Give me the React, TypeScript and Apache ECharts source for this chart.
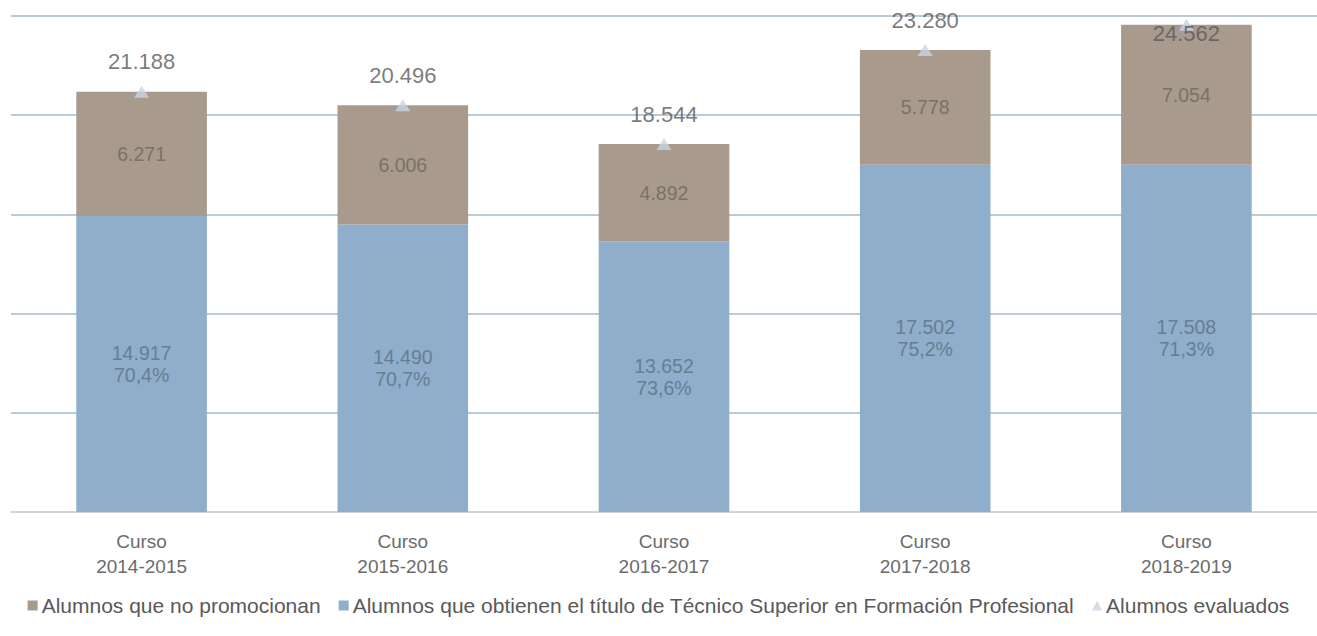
import React, { useEffect, useRef } from "react";
import * as echarts from "echarts";

const categories = ["Curso\n2014-2015", "Curso\n2015-2016", "Curso\n2016-2017", "Curso\n2017-2018", "Curso\n2018-2019"];
const titulados = [14917, 14490, 13652, 17502, 17508];
const noPromocionan = [6271, 6006, 4892, 5778, 7054];
const evaluados = [21188, 20496, 18544, 23280, 24562];
const porcentajes = ["70,4%", "70,7%", "73,6%", "75,2%", "71,3%"];
const yTicks = [0, 5000, 10000, 15000, 20000, 25000];

const SERIES_NO = "Alumnos que no promocionan";
const SERIES_TIT = "Alumnos que obtienen el título de Técnico Superior en Formación Profesional";
const SERIES_EVAL = "Alumnos evaluados";

const fmt = (v: number) => String(v).replace(/\B(?=(\d{3})+(?!\d))/g, ".");

const SANS = "'Liberation Sans', Arial, sans-serif";

export default function App() {
  const ref = useRef<HTMLDivElement>(null);
  useEffect(() => {
    if (!ref.current) return;
    const chart = echarts.init(ref.current, undefined, { renderer: "svg" });
    const last = evaluados.length - 1;
    chart.setOption({
      animation: false,
      backgroundColor: "#ffffff",
      grid: { left: 11, right: -7, top: 16, bottom: 124, containLabel: false },
      legend: {
        top: 595,
        left: "center",
        width: 1317,
        padding: 0,
        itemWidth: 10,
        itemHeight: 10,
        itemGap: 18,
        data: [
          { name: SERIES_NO, icon: "rect" },
          { name: SERIES_TIT, icon: "rect" },
          { name: SERIES_EVAL, icon: "triangle" },
        ],
        textStyle: { fontFamily: SANS, fontSize: 21, color: "#595959", padding: [0, 0, 0, -1] },
      },
      xAxis: {
        type: "category",
        data: categories,
        axisLine: { show: true, lineStyle: { color: "#d9d9d9", width: 1.5 } },
        axisTick: { show: false },
        axisLabel: {
          fontFamily: SANS,
          fontSize: 19,
          color: "#6b6b6b",
          lineHeight: 25,
          margin: 17,
        },
      },
      yAxis: {
        type: "value",
        min: yTicks[0],
        max: yTicks[yTicks.length - 1],
        interval: yTicks[1] - yTicks[0],
        axisLabel: { show: false },
        axisLine: { show: false },
        axisTick: { show: false },
        splitLine: { show: true, lineStyle: { color: "#a3b8cc", width: 1.5 } },
      },
      series: [
        {
          name: SERIES_TIT,
          type: "bar",
          stack: "total",
          barWidth: "50%",
          data: titulados,
          itemStyle: { color: "#8eaecb" },
          label: {
            show: true,
            position: "inside",
            fontFamily: SANS,
            fontSize: 19.5,
            lineHeight: 22,
            color: "#687d92",
            formatter: (p: any) => fmt(titulados[p.dataIndex]) + "\n" + porcentajes[p.dataIndex],
          },
          z: 2,
        },
        {
          name: SERIES_NO,
          type: "bar",
          stack: "total",
          barWidth: "50%",
          data: noPromocionan,
          itemStyle: { color: "#a89b8e" },
          label: {
            show: true,
            position: "inside",
            fontFamily: SANS,
            fontSize: 19.5,
            color: "#7c7168",
            formatter: (p: any) => fmt(noPromocionan[p.dataIndex]),
          },
          z: 2,
        },
        {
          name: SERIES_EVAL,
          type: "scatter",
          symbol: "triangle",
          symbolSize: [15, 12],
          data: evaluados.map((v, i) =>
            i === last
              ? { value: v, label: { position: "inside", offset: [0, 9] } }
              : v
          ),
          itemStyle: { color: "#c9d5e4" },
          label: {
            show: true,
            position: "top",
            distance: 13,
            fontFamily: SANS,
            fontSize: 22,
            color: "#595959",
            formatter: (p: any) => fmt(evaluados[p.dataIndex]),
          },
          z: 5,
        },
      ],
    });
    return () => chart.dispose();
  }, []);
  return (
    <div
      ref={ref}
      style={{ position: "absolute", left: 0, top: 0, width: 1317, height: 636 }}
    />
  );
}
